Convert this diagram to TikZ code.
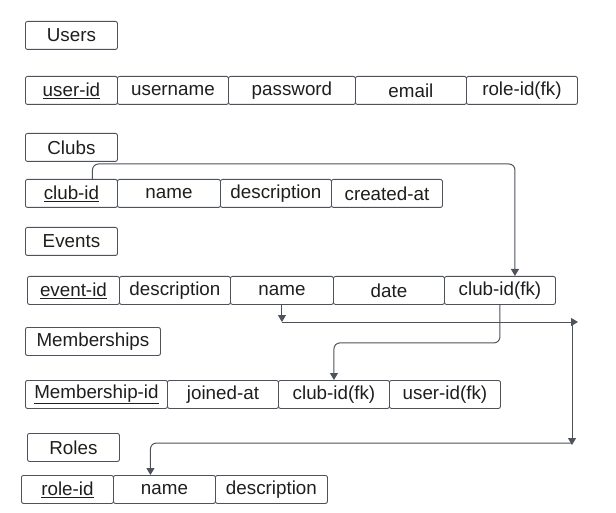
\documentclass[tikz,border=0pt]{standalone}
\usepackage{fontspec}
\setmainfont{Liberation Sans}
\usetikzlibrary{arrows.meta}
\definecolor{linegray}{RGB}{78,82,90}
\definecolor{inkgray}{RGB}{30,30,30}

\begin{document}
\begin{tikzpicture}[x=1pt,y=-1pt,
    box/.style={draw=linegray, line width=0.9pt, rounded corners=2pt, inner sep=0pt,
        anchor=north west, minimum height=28pt, text=inkgray,
        font=\fontsize{18.8}{21}\selectfont},
    link/.style={draw=linegray, line width=1pt, rounded corners=6pt,
        -{Triangle[length=7pt,width=8pt]}},
    plain/.style={draw=linegray, line width=1pt}]

    \useasboundingbox (0,0) rectangle (616,513);

    % Users
    \node[box, minimum width=92pt] (users) at (25,21) {Users};
    \foreach \i/\txt/\xa/\xb in {1/\underline{user-id}/25/117, 2/username/117/228,
        3/password/228/355, 4/email/355/466, 5/role-id(fk)/466/577}
        \node[box, minimum width={(\xb-\xa)*1pt}] (u\i) at (\xa,76) {\txt};

    % Clubs
    \node[box, minimum width=92pt] (clubs) at (25,133) {Clubs};
    \foreach \i/\txt/\xa/\xb in {1/\underline{club-id}/25/117, 2/name/117/220,
        3/description/220/331, 4/created-at/331/442}
        \node[box, minimum width={(\xb-\xa)*1pt}] (c\i) at (\xa,179) {\txt};

    % Events
    \node[box, minimum width=92pt] (events) at (25,227) {Events};
    \foreach \i/\txt/\xa/\xb in {1/\underline{event-id}/27/119, 2/description/119/230,
        3/name/230/333, 4/date/333/444, 5/club-id(fk)/444/555}
        \node[box, minimum width={(\xb-\xa)*1pt}] (e\i) at (\xa,276) {\txt};

    % Memberships
    \node[box, minimum width=135pt] (members) at (25,327) {Memberships};
    \foreach \i/\txt/\xa/\xb in {1/\underline{Membership-id}/25/167, 2/joined-at/167/278,
        3/club-id(fk)/278/389, 4/user-id(fk)/389/500}
        \node[box, minimum width={(\xb-\xa)*1pt}] (m\i) at (\xa,380) {\txt};

    % Roles
    \node[box, minimum width=92pt] (roles) at (27,433) {Roles};
    \foreach \i/\txt/\xa/\xb in {1/\underline{role-id}/21/113, 2/name/113/215,
        3/description/215/327}
        \node[box, minimum width={(\xb-\xa)*1pt}] (r\i) at (\xa,475) {\txt};

    % Connectors
    \coordinate (hub) at (572,322);
    \coordinate (hubend) at (578,322);
    \coordinate (drop) at (572,443);

    \draw[link] ([xshift=21pt]c1.north) -- ++(0,-15) -| ([xshift=15pt]e5.north);
    \draw[link] (e5.south) -- ++(0,38) -| (m3.north);
    \draw[link] (e3.south) -- (e3.south |- hub);
    \draw[link] (e3.south |- hub) -- (hubend);
    \draw[link] (hub) -- ([yshift=-2pt]drop);
    \draw[link] (drop) -| ([xshift=-14pt]r2.north);

\end{tikzpicture}
\end{document}
